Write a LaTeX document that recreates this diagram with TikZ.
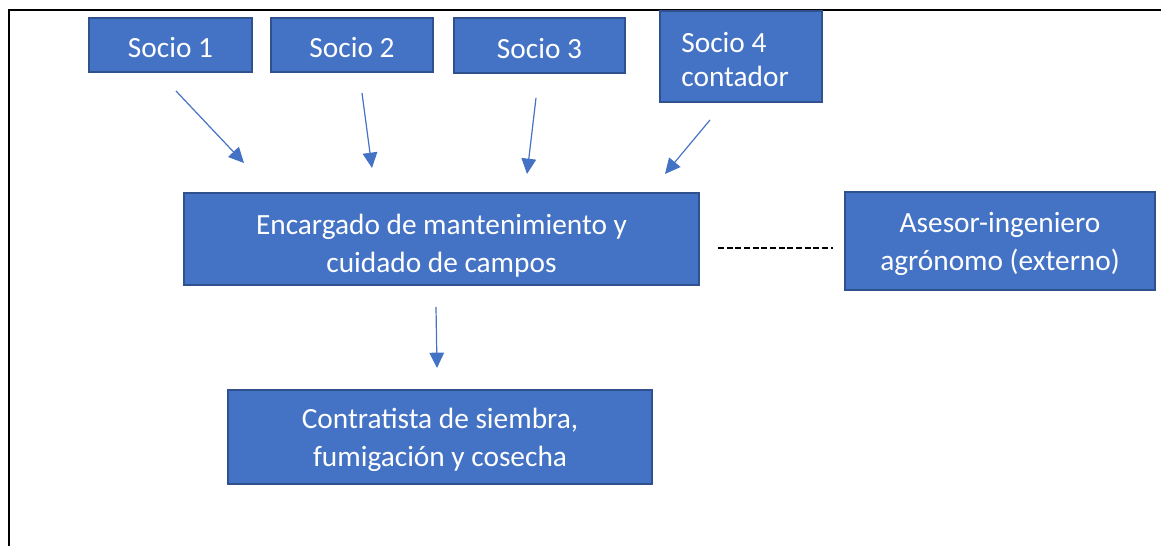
\documentclass[tikz,border=0pt]{standalone}
\usepackage{fontspec}
\setmainfont{Carlito}
\usetikzlibrary{arrows.meta}
\definecolor{ofblue}{HTML}{4472C4}
\definecolor{ofedge}{HTML}{2F528F}
\tikzset{
  cajita/.style={draw=ofedge,line width=1.3pt,fill=ofblue,inner sep=0pt},
  rotulo/.style={text=white,align=center,inner sep=0pt,font=\fontsize{22}{28}\selectfont},
  flecha/.style={draw=ofblue,line width=0.9pt,-{Triangle[length=11.5pt,width=11pt]}}
}
\begin{document}
\begin{tikzpicture}[x=0.75pt,y=-0.75pt]
\useasboundingbox (0,0) rectangle (1161,546);
\draw[line width=1.6pt](8,10)--(1161,10);\draw[line width=1.6pt](9,10)--(9,546);
\node[cajita,minimum width=122.25pt,minimum height=40.5pt,
  label={[rotulo,yshift=-1.9pt]center:Socio 1}](s1) at(170.5,45){};
\node[cajita,minimum width=121.5pt,minimum height=40.5pt,
  label={[rotulo,yshift=-1.9pt]center:Socio 2}](s2) at(352,45){};
\node[cajita,minimum width=128.25pt,minimum height=41.25pt,
  label={[rotulo,yshift=-1.9pt]center:Socio 3}](s3) at(539.5,45.5){};
\node[cajita,minimum width=121.5pt,minimum height=68.25pt,
  label={[rotulo,align=left,anchor=west,xshift=16.5pt,yshift=-1.9pt,font=\fontsize{22}{25.5}\selectfont]west:{Socio 4\\contador}}](s4) at(741,56.5){};
\node[cajita,minimum width=386.25pt,minimum height=69pt,
  label={[rotulo,yshift=-4.9pt]center:{Encargado de mantenimiento y\\cuidado de campos}}](enc) at(441.5,239){};
\node[cajita,minimum width=232.5pt,minimum height=73.5pt,
  label={[rotulo,yshift=-2.3pt]center:{Asesor-ingeniero\\agrónomo (externo)}}](ase) at(1000,241){};
\node[cajita,minimum width=318pt,minimum height=70.5pt,
  label={[rotulo,yshift=-2pt]center:{Contratista de siembra,\\fumigación y cosecha}}](con) at(440,437){};
\coordinate(a1s) at(176,91);\coordinate(a1e) at(244,163);
\coordinate(a2s) at(362,93);\coordinate(a2e) at(372,168);
\coordinate(a3s) at(536,98);\coordinate(a3e) at(527,174);
\coordinate(a4s) at(710,120);\coordinate(a4e) at(665,174);
\coordinate(a5s) at(436,307);\coordinate(a5e) at(437,368);
\coordinate(d1) at(718,248);\coordinate(d2) at(833,248);
\draw[flecha](a1s)--(a1e);\draw[flecha](a2s)--(a2e);
\draw[flecha](a3s)--(a3e);\draw[flecha](a4s)--(a4e);
\draw[flecha](a5s)--(a5e);
\draw[line width=1.5pt,dash pattern=on 4.5pt off 2pt](d1)--(d2);
\end{tikzpicture}
\end{document}
